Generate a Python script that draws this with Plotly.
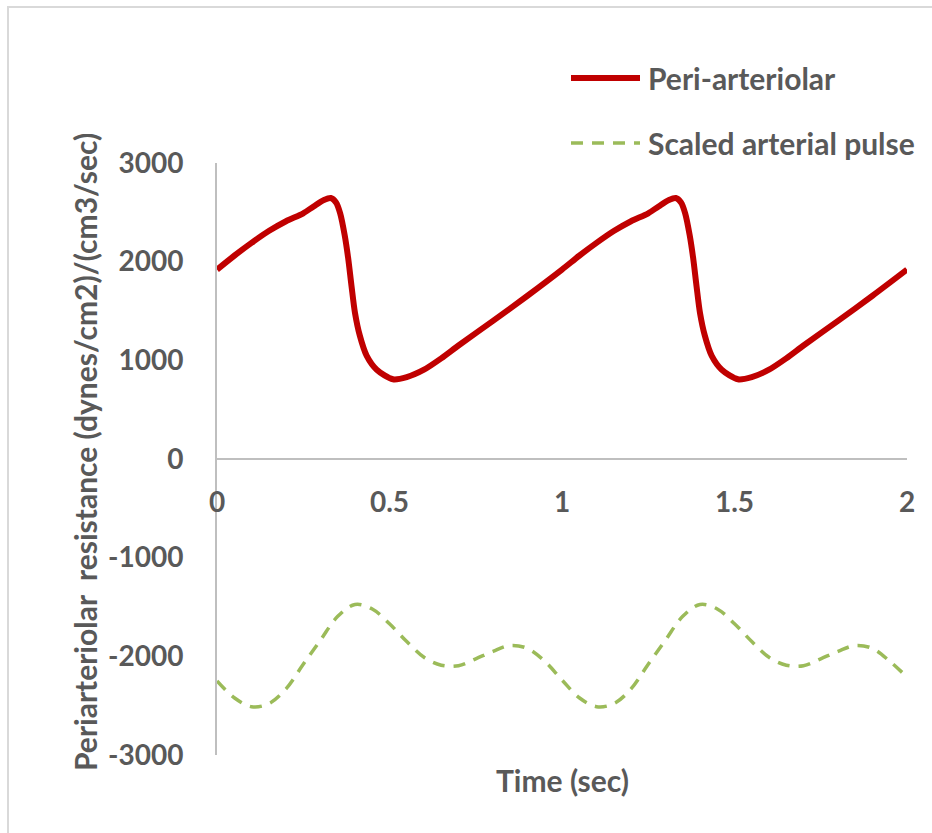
import plotly.graph_objects as go

# Periarteriolar resistance over two cardiac cycles
time_resist = [
    0.00, 0.05, 0.10, 0.15, 0.20, 0.25, 0.28, 0.31, 0.33, 0.345, 0.357, 0.37, 0.38, 0.39,
    0.40, 0.414, 0.434, 0.463, 0.51, 0.55, 0.60, 0.65, 0.70, 0.80, 0.90,
    1.00, 1.05, 1.10, 1.15, 1.20, 1.25, 1.28, 1.31, 1.33, 1.345, 1.357, 1.37, 1.38, 1.39,
    1.40, 1.414, 1.434, 1.463, 1.51, 1.55, 1.60, 1.65, 1.70, 1.80, 1.90, 2.00,
]
peri_arteriolar = [
    1920, 2060, 2190, 2310, 2410, 2490, 2560, 2625, 2645, 2600, 2490, 2270, 2040, 1750,
    1480, 1250, 1045, 905, 808, 830, 905, 1020, 1150, 1400, 1655,
    1920, 2060, 2190, 2310, 2410, 2490, 2560, 2625, 2645, 2600, 2490, 2270, 2040, 1750,
    1480, 1250, 1045, 905, 808, 830, 905, 1020, 1150, 1400, 1655, 1920,
]

# Arterial pulse, scaled and offset below the resistance trace
time_pulse = [
    0.00, 0.05, 0.10, 0.15, 0.20, 0.25, 0.30, 0.35, 0.40, 0.45, 0.50, 0.55, 0.60, 0.65,
    0.70, 0.75, 0.80, 0.85, 0.90, 0.95,
    1.00, 1.05, 1.10, 1.15, 1.20, 1.25, 1.30, 1.35, 1.40, 1.45, 1.50, 1.55, 1.60, 1.65,
    1.70, 1.75, 1.80, 1.85, 1.90, 1.95, 2.00,
]
scaled_pulse = [
    -2250, -2420, -2510, -2480, -2330, -2080, -1835, -1595, -1475, -1520, -1670, -1850, -2010, -2090,
    -2095, -2025, -1950, -1890, -1920, -2050,
    -2240, -2420, -2510, -2480, -2330, -2080, -1835, -1595, -1475, -1520, -1670, -1850, -2010, -2090,
    -2095, -2025, -1950, -1890, -1920, -2050, -2210,
]

x_ticks = [0, 0.5, 1, 1.5, 2]
x_tick_text = ["0", "0.5", "1", "1.5", "2"]
y_ticks = [-3000, -2000, -1000, 0, 1000, 2000, 3000]

RED = "#C00000"
GREEN = "#9BBB59"
TEXT = "#595959"
AXIS = "#BFBFBF"
FONT = "Lato"
TICK_SIZE = 28
LABEL_SIZE = 30

fig = go.Figure()
fig.add_trace(go.Scatter(
    x=time_resist, y=peri_arteriolar, mode="lines", name="Peri-arteriolar",
    line=dict(color=RED, width=6, shape="spline", smoothing=0.8),
    showlegend=False,
))
fig.add_trace(go.Scatter(
    x=time_pulse, y=scaled_pulse, mode="lines", name="Scaled arterial pulse",
    line=dict(color=GREEN, width=3.5, shape="spline", smoothing=1.0, dash="12px,9px"),
    showlegend=False,
))

# plot-area geometry in pixels, used to place legend / titles in paper units
L, R, T, B = 217, 907, 163, 755
W, H = R - L, B - T


def px(xp):
    return (xp - L) / W


def py(yp):
    return (B - yp) / H


shapes = [
    # chart frame
    dict(type="rect", xref="paper", yref="paper", x0=px(8), y0=py(900), x1=px(1000), y1=py(7),
         line=dict(color="#D9D9D9", width=2), fillcolor="rgba(0,0,0,0)", layer="below"),
    # legend keys
    dict(type="line", xref="paper", yref="paper", x0=px(571), x1=px(640), y0=py(78), y1=py(78),
         line=dict(color=RED, width=6)),
    dict(type="line", xref="paper", yref="paper", x0=px(571), x1=px(640), y0=py(143), y1=py(143),
         line=dict(color=GREEN, width=3.5, dash="12px,9px")),
]

annotations = [
    dict(text="<b>Peri-arteriolar</b>", xref="paper", yref="paper", x=px(646), y=py(78),
         xanchor="left", yanchor="middle", showarrow=False,
         font=dict(family=FONT, size=LABEL_SIZE, color=TEXT)),
    dict(text="<b>Scaled arterial pulse</b>", xref="paper", yref="paper", x=px(646), y=py(143),
         xanchor="left", yanchor="middle", showarrow=False,
         font=dict(family=FONT, size=LABEL_SIZE, color=TEXT)),
    dict(text="<b>Time (sec)</b>", xref="paper", yref="paper", x=px(562), y=py(780),
         xanchor="center", yanchor="middle", showarrow=False,
         font=dict(family=FONT, size=LABEL_SIZE, color=TEXT)),
    dict(text="<b>Periarteriolar  resistance (dynes/cm2)/(cm3/sec)</b>", xref="paper", yref="paper",
         x=px(85), y=py(452), xanchor="center", yanchor="middle", textangle=-90, showarrow=False,
         font=dict(family=FONT, size=LABEL_SIZE, color=TEXT)),
]

fig.update_layout(
    width=932, height=833,
    margin=dict(l=L, r=932 - R, t=T, b=833 - B),
    paper_bgcolor="white", plot_bgcolor="white",
    font=dict(family=FONT, size=TICK_SIZE, color=TEXT),
    shapes=shapes, annotations=annotations,
    xaxis=dict(
        range=[0, 2], tickvals=x_ticks, ticktext=[f"<b>{t}</b>" for t in x_tick_text],
        anchor="free", position=0.5,
        showline=True, linecolor=AXIS, linewidth=2, showgrid=False, zeroline=False,
        ticks="", ticklabelstandoff=18,
        tickfont=dict(family=FONT, size=TICK_SIZE, color=TEXT),
    ),
    yaxis=dict(
        range=[-3000, 3000], tickvals=y_ticks, ticktext=[f"<b>{v}</b>" for v in y_ticks],
        showline=True, linecolor=AXIS, linewidth=2, showgrid=False, zeroline=False,
        ticks="", ticklabelstandoff=26,
        tickfont=dict(family=FONT, size=TICK_SIZE, color=TEXT),
    ),
)

fig.write_html("out.html")
